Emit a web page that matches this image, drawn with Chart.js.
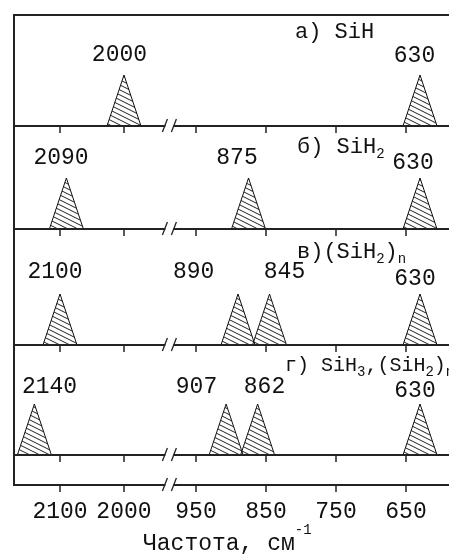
<!DOCTYPE html>
<html>
<head>
<meta charset="utf-8">
<script src="https://cdn.jsdelivr.net/npm/chart.js@4/dist/chart.umd.min.js"></script>
<style>
  html, body { margin: 0; padding: 0; background: #fff; }
  canvas { display: block; }
</style>
</head>
<body>
<canvas id="c" width="449" height="556"></canvas>
<script>
// ---------------- DATA ----------------
const peaksA = [2000, 630];
const peaksB = [2090, 875, 630];
const peaksC = [2100, 890, 845, 630];
const peaksD = [2140, 907, 862, 630];
const tickValues = [2100, 2000, 950, 850, 750, 650];
const tickLabels = ['2100', '2000', '950', '850', '750', '650'];
const titleA = [['а) SiH']];
const titleB = [['б) SiH'], ['2', 'sub']];
const titleC = [['в)(SiH'], ['2', 'sub'], [')'], ['n', 'sub']];
const titleD = [['г) SiH'], ['3', 'sub'], [',(SiH'], ['2', 'sub'], [')'], ['n', 'sub']];
const axisTitle = [['Частота, см'], ['-1', 'sup']];

// ---------------- LAYOUT / STYLE ----------------
const panels = [peaksA, peaksB, peaksC, peaksD];
const titles = [titleA, titleB, titleC, titleD];
const BASE = [359, 256, 140, 30];      // panel baselines (y units)
const Y_TOP = 470;
const PEAK_H = 51;
const HALF_W = 24.3;
const GAP_U = 102.9, LEFT_K = 0.914;   // axis break geometry
const BREAK_U = 988;
const X_MIN = 588.6, X_MAX = 1210;
const LABEL_DX = [[-4.5, -5.5], [-5.4, -11.5, -7], [-5, -44.3, 15, -5], [15.1, -29.6, 6.9, -5]];
const LABEL_LIFT = [[65, 64], [65, 65, 60], [67, 67, 67, 60], [62, 62, 62, 58]];
const TITLE_X = [281, 283, 283, 271];
const TITLE_LIFT = [88, 76, 87, 84];
const TITLE_SIZE = [22, 22, 22, 20];
const FONT = '"Liberation Mono", "Courier New", monospace';
const INK = '#111';

function toU(v) { return v > 1500 ? 950 + GAP_U + (v - 2000) * LEFT_K : v; }

const canvas = document.getElementById('c');
const ctx0 = canvas.getContext('2d');
function makeHatch() {
  const c = document.createElement('canvas');
  c.width = 10; c.height = 5;
  const g = c.getContext('2d');
  g.strokeStyle = '#222'; g.lineWidth = 1;
  for (const off of [-5, 0, 5]) {
    g.beginPath(); g.moveTo(0, off); g.lineTo(10, off + 5); g.stroke();
  }
  return ctx0.createPattern(c, 'repeat');
}
const hatch = makeHatch();

const datasets = [];
panels.forEach((peaks, i) => {
  peaks.forEach(p => {
    const u = toU(p), b = BASE[i];
    datasets.push({
      data: [{x: u - HALF_W, y: b}, {x: u, y: b + PEAK_H}, {x: u + HALF_W, y: b}],
      borderColor: INK, borderWidth: 1, backgroundColor: hatch,
      fill: {value: b}, pointRadius: 0, tension: 0
    });
  });
});

function drawRich(ctx, x, y, segs, size) {
  let cx = x;
  segs.forEach(([t, kind]) => {
    let fs = size, dy = 0;
    if (kind === 'sub') { fs = 14; dy = 5; }
    if (kind === 'sup') { fs = 14; dy = -16; }
    ctx.font = fs + 'px ' + FONT;
    ctx.textAlign = 'left';
    ctx.textBaseline = 'alphabetic';
    ctx.fillText(t, cx, y + dy);
    cx += ctx.measureText(t).width;
  });
}

const decor = {
  id: 'decor',
  afterDatasetsDraw(chart) {
    const ctx = chart.ctx, xs = chart.scales.x, ys = chart.scales.y;
    const L = chart.chartArea.left, R = chart.chartArea.right;
    const bx = xs.getPixelForValue(BREAK_U);
    ctx.save();
    ctx.strokeStyle = '#222';
    ctx.lineWidth = 2;
    const yTop = ys.getPixelForValue(Y_TOP);
    const yBot = ys.getPixelForValue(0);
    ctx.beginPath();
    ctx.moveTo(R, yTop); ctx.lineTo(L, yTop); ctx.lineTo(L, yBot + 1);
    ctx.stroke();
    [...BASE, 0].forEach(b => {
      const py = ys.getPixelForValue(b);
      ctx.lineWidth = 2;
      ctx.beginPath();
      ctx.moveTo(L, py); ctx.lineTo(bx - 4, py);
      ctx.moveTo(bx + 4, py); ctx.lineTo(R, py);
      ctx.stroke();
      ctx.lineWidth = 1.3;
      ctx.beginPath();
      ctx.moveTo(bx - 7, py + 6); ctx.lineTo(bx - 2, py - 7);
      ctx.moveTo(bx + 2, py + 6); ctx.lineTo(bx + 7, py - 7);
      ctx.stroke();
      ctx.lineWidth = 1.5;
      tickValues.forEach(tv => {
        const px = Math.round(xs.getPixelForValue(toU(tv)));
        ctx.beginPath(); ctx.moveTo(px, py); ctx.lineTo(px, py + 7); ctx.stroke();
      });
    });
    ctx.fillStyle = INK;
    panels.forEach((peaks, i) => {
      peaks.forEach((p, j) => {
        const px = xs.getPixelForValue(toU(p)) + LABEL_DX[i][j];
        const py = ys.getPixelForValue(BASE[i] + LABEL_LIFT[i][j]);
        ctx.font = '23px ' + FONT;
        ctx.textAlign = 'center';
        ctx.textBaseline = 'alphabetic';
        ctx.fillText(String(p), px, py);
      });
    });
    titles.forEach((segs, i) => {
      drawRich(ctx, L + TITLE_X[i], ys.getPixelForValue(BASE[i] + TITLE_LIFT[i]), segs, TITLE_SIZE[i]);
    });
    drawRich(ctx, 143, 550, axisTitle, 23);
    ctx.restore();
  }
};

new Chart(canvas, {
  type: 'line',
  data: { datasets },
  plugins: [decor],
  options: {
    responsive: false,
    animation: false,
    devicePixelRatio: 1,
    events: [],
    layout: { padding: { left: 14, top: 15, right: 0, bottom: 0 } },
    plugins: { legend: { display: false }, tooltip: { enabled: false } },
    scales: {
      x: {
        type: 'linear',
        reverse: true,
        min: X_MIN,
        max: X_MAX,
        afterBuildTicks: s => { s.ticks = tickValues.map(v => ({ value: toU(v) })); },
        afterFit: s => { s.height = 71; },
        grid: { display: false, drawTicks: false },
        border: { display: false },
        ticks: {
          autoSkip: false,
          maxRotation: 0,
          padding: 13,
          color: INK,
          font: { family: FONT, size: 23 },
          callback: (v, i) => tickLabels[i]
        }
      },
      y: {
        type: 'linear',
        display: false,
        min: 0,
        max: Y_TOP
      }
    }
  }
});
</script>
</body>
</html>
